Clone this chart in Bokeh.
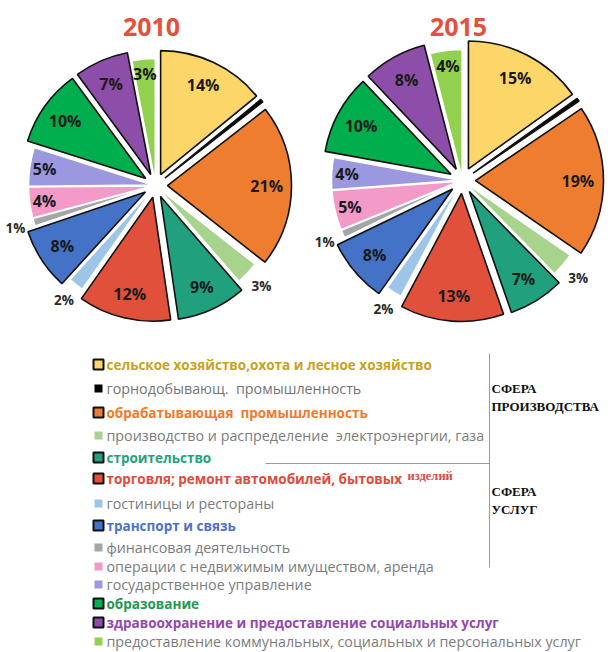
import numpy as np
from bokeh.plotting import figure
from bokeh.models import Range1d, ColumnDataSource
from bokeh.core.properties import value
from bokeh.embed import file_html
from bokeh.resources import INLINE

# ---------------- data ----------------
categories = [
    "сельское хозяйство,охота и лесное хозяйство",
    "горнодобывающ.\u00a0\u00a0промышленность",
    "обрабатывающая\u00a0\u00a0промышленность",
    "производство и распределение\u00a0\u00a0электроэнергии, газа",
    "строительство",
    "торговля; ремонт автомобилей, бытовых",
    "гостиницы и рестораны",
    "транспорт и связь",
    "финансовая деятельность",
    "операции с недвижимым имуществом, аренда",
    "государственное управление",
    "образование",
    "здравоохранение и предоставление социальных услуг",
    "предоставление коммунальных, социальных и персональных услуг",
]
share_2010 = [14, 0.4, 21, 3, 9, 12, 2, 8, 1, 4, 5, 10, 7, 3]
share_2015 = [15, 0.4, 19, 3, 7, 13, 2, 8, 1, 5, 4, 10, 8, 4]
years = ["2010", "2015"]
trade_suffix = "изделий"
sphere_production = ["СФЕРА", "ПРОИЗВОДСТВА"]
sphere_services = ["СФЕРА", "УСЛУГ"]

# ---------------- styles ----------------
slice_colors = ["#FCD669", "#000000", "#EE7D30", "#A8D38C", "#20A07D", "#E0503A",
                "#9DC5E8", "#4472C6", "#A6A6A6", "#F49AC9", "#9B98E0", "#00AE4E",
                "#8C4EA8", "#92D050"]
emphasized = [True, True, True, False, True, True, False, True, False, False, False,
              True, True, False]
legend_bold = [True, False, True, False, True, True, False, True, False, False, False,
               True, True, False]
label_outside = [False, False, False, True, False, False, True, False, True, False,
                 False, False, False, False]
legend_text_colors = ["#C9A21E", "#757575", "#F07A2C", "#7C7C7C", "#25A27C", "#E04A3A",
                      "#7C7C7C", "#4A72C8", "#7C7C7C", "#7C7C7C", "#7C7C7C", "#1E9A52",
                      "#9448AD", "#7C7C7C"]
legend_rows_y = [364, 388, 412, 435, 457, 478, 503, 525, 547, 566, 584, 603, 622, 641]

W, H = 614, 652
FONT = "Open Sans"

p = figure(width=W, height=H, x_range=Range1d(0, W), y_range=Range1d(0, H),
           output_backend="svg", toolbar_location=None, min_border=0,
           x_axis_location=None, y_axis_location=None)
p.grid.visible = False
p.outline_line_color = None
p.background_fill_color = "white"
p.border_fill_color = "white"


def Y(py):
    return H - py


def draw_pie(vals, cx, cy, R, ex_hi, ex_lo, year):
    total = float(sum(vals))
    cum = np.concatenate([[0.0], np.cumsum(vals)]) / total * 2 * np.pi
    rows = dict(x=[], y=[], start=[], end=[], fill=[], line=[], lw=[])
    lab = dict(x=[], y=[], t=[])
    olab = dict(x=[], y=[], t=[])
    for i, v in enumerate(vals):
        a0, a1 = cum[i], cum[i + 1]
        mid = 0.5 * (a0 + a1)
        ex = ex_hi if emphasized[i] else ex_lo
        ox = cx + ex * np.sin(mid)
        oy = Y(cy) + ex * np.cos(mid)
        rows["x"].append(ox)
        rows["y"].append(oy)
        rows["start"].append(np.pi / 2 - a0)
        rows["end"].append(np.pi / 2 - a1)
        rows["fill"].append(slice_colors[i])
        rows["line"].append("#111111" if emphasized[i] else "white")
        rows["lw"].append(1.6 if emphasized[i] else 1.5)
        if v < 1:
            continue
        txt = f"{round(v)}%"
        if label_outside[i]:
            d = 1.18 * R
            olab["x"].append(cx + d * np.sin(mid))
            olab["y"].append(Y(cy) + d * np.cos(mid))
            olab["t"].append(txt)
        else:
            d = (0.8 * R + ex) if emphasized[i] else (0.88 * R + ex)
            lab["x"].append(cx + d * np.sin(mid))
            lab["y"].append(Y(cy) + d * np.cos(mid))
            lab["t"].append(txt)
    src = ColumnDataSource(rows)
    p.wedge(x="x", y="y", radius=R, start_angle="start", end_angle="end",
            direction="clock", fill_color="fill", line_color="line",
            line_width="lw", source=src)
    p.text(x="x", y="y", text="t", source=ColumnDataSource(lab),
           text_font=value(FONT), text_font_style="bold", text_font_size="16px",
           text_color="#1A1A1A", text_align="center", text_baseline="middle")
    p.text(x="x", y="y", text="t", source=ColumnDataSource(olab),
           text_font=value(FONT), text_font_style="bold", text_font_size="13.5px",
           text_color="#2A2A2A", text_align="center", text_baseline="middle")
    p.text(x=[cx - 4], y=[Y(26)], text=[year], text_font=value(FONT),
           text_font_style="bold", text_font_size="25px", text_color="#E5503C",
           text_align="center", text_baseline="middle")


draw_pie(share_2010, 155, 185, 124, 12, 3, years[0])
draw_pie(share_2015, 462, 180, 128, 13, 3, years[1])

# ---------------- legend ----------------
ly = [Y(v) for v in legend_rows_y]
bold_idx = [i for i in range(len(categories)) if legend_bold[i]]
plain_idx = [i for i in range(len(categories)) if not legend_bold[i]]
p.scatter(x=[98] * len(bold_idx), y=[ly[i] for i in bold_idx], marker="square",
          size=10, fill_color=[slice_colors[i] for i in bold_idx],
          line_color="#111111", line_width=2)
p.scatter(x=[98] * len(plain_idx), y=[ly[i] for i in plain_idx], marker="square",
          size=8, fill_color=[slice_colors[i] for i in plain_idx], line_color=None)
p.text(x=[106] * len(bold_idx), y=[ly[i] for i in bold_idx],
       text=[categories[i] for i in bold_idx],
       text_color=[legend_text_colors[i] for i in bold_idx],
       text_font=value(FONT), text_font_style="bold", text_font_size="13.5px",
       text_align="left", text_baseline="middle")
p.text(x=[106] * len(plain_idx), y=[ly[i] for i in plain_idx],
       text=[categories[i] for i in plain_idx],
       text_color=[legend_text_colors[i] for i in plain_idx],
       text_font=value(FONT), text_font_size="14.3px",
       text_align="left", text_baseline="middle")
p.text(x=[407], y=[Y(475)], text=[trade_suffix], text_color="#E04A3A",
       text_font=value("Liberation Serif"), text_font_style="bold",
       text_font_size="12.5px", text_align="left", text_baseline="middle")

# ---------------- sphere brackets ----------------
p.line(x=[489, 489], y=[Y(353), Y(567)], line_color="#9A9A9A", line_width=1)
p.line(x=[265, 489], y=[Y(463), Y(463)], line_color="#9A9A9A", line_width=1)
p.text(x=[491, 491], y=[Y(388), Y(406)], text=sphere_production,
       text_font=value("Liberation Serif"), text_font_style="bold",
       text_font_size="13px", text_color="#111111", text_align="left",
       text_baseline="middle")
p.text(x=[491, 491], y=[Y(491), Y(509)], text=sphere_services,
       text_font=value("Liberation Serif"), text_font_style="bold",
       text_font_size="13px", text_color="#111111", text_align="left",
       text_baseline="middle")

open("out.html", "w").write(file_html(p, INLINE))
